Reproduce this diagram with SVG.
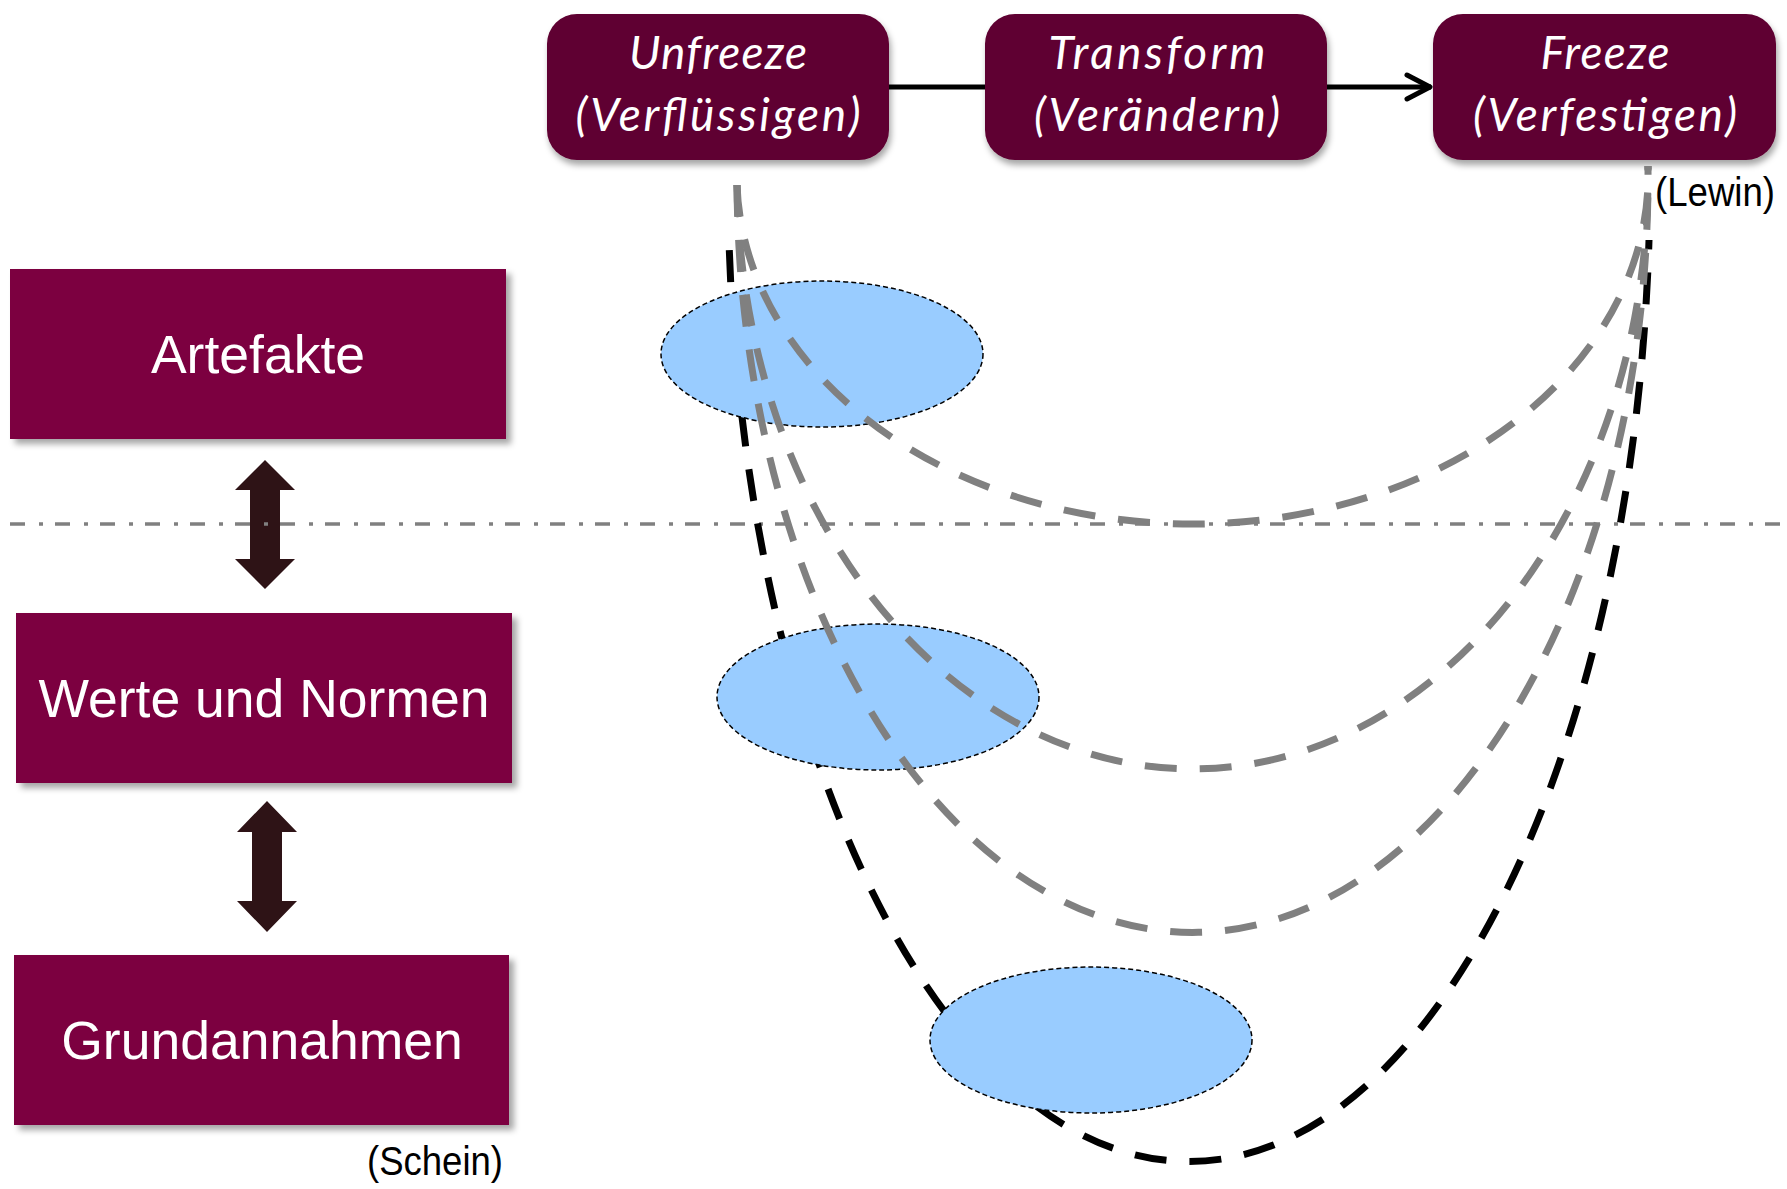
<svg xmlns="http://www.w3.org/2000/svg" width="1787" height="1189" viewBox="0 0 1787 1189">
  <style>
    .phase { fill: #5E0031; filter: url(#shadowTop); }
    .layer { fill: #7B003F; filter: url(#shadowBox); }
    .phaseText { font-family: Lato, "Open Sans", "DejaVu Sans", sans-serif; font-style: italic; font-size: 46px; fill: #FFFFFF; text-anchor: middle; }
    .layerText { font-family: "Liberation Sans", Arial, sans-serif; font-size: 53.5px; fill: #FFFFFF; text-anchor: middle; }
    .note { font-family: "Liberation Sans", Arial, sans-serif; font-size: 40px; fill: #000000; }
    .link { stroke: #000000; stroke-width: 5; fill: none; }
    .updown { fill: #2E1316; }
    .level { stroke: #808080; stroke-width: 3.5; stroke-dasharray: 15 14 4 12; fill: none; }
    .spot { fill: #99CCFF; stroke: #000000; stroke-width: 1.5; stroke-dasharray: 5 3; }
    .curveGray { stroke: #808080; stroke-width: 7; stroke-dasharray: 32 23; fill: none; }
    .curveBlack { stroke: #000000; stroke-width: 7; stroke-dasharray: 32 23; fill: none; }
  </style>
  <defs>
    <filter id="shadowTop" x="-10%" y="-10%" width="120%" height="130%">
      <feDropShadow dx="2" dy="5" stdDeviation="3" flood-color="#000000" flood-opacity="0.35"/>
    </filter>
    <filter id="shadowBox" x="-10%" y="-10%" width="120%" height="130%">
      <feDropShadow dx="5" dy="5" stdDeviation="3" flood-color="#000000" flood-opacity="0.35"/>
    </filter>
    <marker id="chevron" markerUnits="userSpaceOnUse" viewBox="-30 -20 40 40" markerWidth="40" markerHeight="40" refX="0" refY="0" orient="auto">
      <path d="M -24 -12 L -1 0 L -24 12" fill="none" stroke="#000000" stroke-width="5" stroke-linecap="round" stroke-linejoin="round"/>
    </marker>
  </defs>

  <rect width="1787" height="1189" fill="#FFFFFF"/>

  <!-- culture layers -->
  <g id="artefakte">
    <rect class="layer" x="10" y="269" width="496" height="170"/>
    <text class="layerText" x="258" y="373">Artefakte</text>
  </g>
  <g id="werte-und-normen">
    <rect class="layer" x="16" y="613" width="496" height="170"/>
    <text class="layerText" x="264" y="717">Werte und Normen</text>
  </g>
  <g id="grundannahmen">
    <rect class="layer" x="14" y="955" width="495" height="170"/>
    <text class="layerText" x="262" y="1059">Grundannahmen</text>
  </g>
  <g id="schein">
    <text class="note" x="367" y="1175" textLength="136" lengthAdjust="spacingAndGlyphs">(Schein)</text>
  </g>

  <!-- change phases -->
  <g id="unfreeze">
    <rect class="phase" x="547" y="14" width="342" height="146" rx="30"/>
    <text class="phaseText" x="718" y="69" textLength="178">Unfreeze</text>
    <text class="phaseText" x="718" y="131" textLength="285">(Verflüssigen)</text>
  </g>
  <g id="transform">
    <rect class="phase" x="985" y="14" width="342" height="146" rx="30"/>
    <text class="phaseText" x="1157" y="69" textLength="217">Transform</text>
    <text class="phaseText" x="1157" y="131" textLength="246">(Verändern)</text>
  </g>
  <g id="freeze">
    <rect class="phase" x="1433" y="14" width="343" height="146" rx="30"/>
    <text class="phaseText" x="1605" y="69" textLength="129">Freeze</text>
    <text class="phaseText" x="1605" y="131" textLength="264">(Verfestigen)</text>
  </g>
  <g id="lewin">
    <text class="note" x="1655" y="206" textLength="120" lengthAdjust="spacingAndGlyphs">(Lewin)</text>
  </g>

  <g id="connectors">
    <line class="link" x1="889" y1="87" x2="985" y2="87"/>
    <line class="link" x1="1327" y1="87" x2="1431" y2="87" marker-end="url(#chevron)"/>
    <polygon class="updown" points="265,460 295,490 280,490 280,559 295,559 265,589 235,559 250,559 250,490 235,490"/>
    <polygon class="updown" points="267,801 297,832 282,832 282,901 297,901 267,932 237,901 252,901 252,832 237,832"/>
  </g>

  <!-- visibility boundary -->
  <line class="level" x1="10" y1="524" x2="1787" y2="524"/>

  <!-- deepest change path runs beneath the spots -->
  <g id="curve-deep">
    <path class="curveBlack" d="M 729.3 250.1 C 747.6 764.2 947.9 1161.5 1189 1161.5 C 1431.9 1161.5 1633.1 758.3 1649 240"/>
  </g>

  <g id="spot-artefakte">
    <ellipse class="spot" cx="822" cy="354" rx="161" ry="73"/>
  </g>
  <g id="spot-werte">
    <ellipse class="spot" cx="878" cy="697" rx="161" ry="73"/>
  </g>
  <g id="spot-grund">
    <ellipse class="spot" cx="1091" cy="1040" rx="161" ry="73"/>
  </g>

  <g id="curves">
    <path class="curveGray" d="M 737 185 A 455 348 0 0 0 1648 166"/>
    <path class="curveGray" d="M 737 185 A 455 593 0 0 0 1648 166"/>
    <path class="curveGray" d="M 737 185 A 455 756 0 0 0 1648 166"/>
  </g>
</svg>
